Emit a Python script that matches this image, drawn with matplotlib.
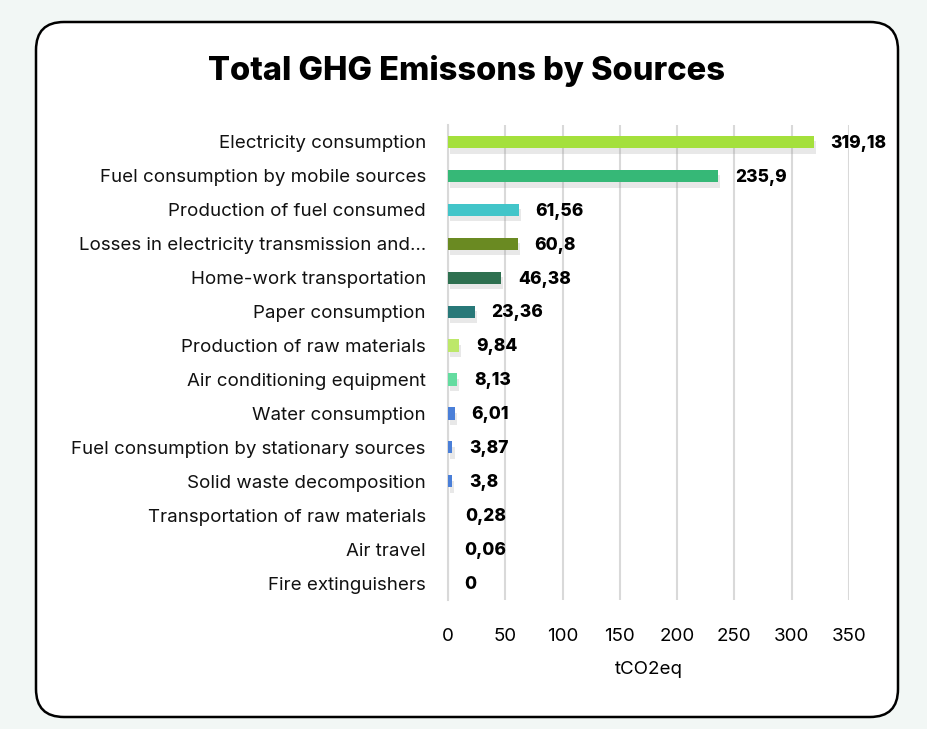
import matplotlib
matplotlib.use('Agg')
import matplotlib.pyplot as plt
import matplotlib.patheffects as pe
from matplotlib.patches import FancyBboxPatch

# Data
sources = [
    'Electricity consumption',
    'Fuel consumption by mobile sources',
    'Production of fuel consumed',
    'Losses in electricity transmission and\u2026',
    'Home-work transportation',
    'Paper consumption',
    'Production of raw materials',
    'Air conditioning equipment',
    'Water consumption',
    'Fuel consumption by stationary sources',
    'Solid waste decomposition',
    'Transportation of raw materials',
    'Air travel',
    'Fire extinguishers',
]
emissions = [319.18, 235.9, 61.56, 60.8, 46.38, 23.36, 9.84, 8.13, 6.01, 3.87, 3.8, 0.28, 0.06, 0]
value_labels = ['319,18', '235,9', '61,56', '60,8', '46,38', '23,36', '9,84', '8,13',
                '6,01', '3,87', '3,8', '0,28', '0,06', '0']
bar_colors = ['#a4e03c', '#36b877', '#42c5c9', '#6a8a22', '#2e7050', '#287878', '#bde86a',
              '#64dca0', '#4a7fd8', '#4a7fd8', '#4a7fd8', '#4a7fd8', '#4a7fd8', '#4a7fd8']
x_ticks = [0, 50, 100, 150, 200, 250, 300, 350]

plt.rcParams['font.family'] = ['Inter', 'DejaVu Sans']

fig = plt.figure(figsize=(9.27, 7.29), dpi=100)
fig.patch.set_facecolor('#f2f7f5')

# rounded white card (pixel coordinates), kept behind the axes
card = FancyBboxPatch((36, 12), 862, 695, boxstyle='round,pad=0,rounding_size=28',
                      transform=None, facecolor='white', edgecolor='black', linewidth=1.8,
                      zorder=-10)
fig.patches.append(card)

fig.text(467 / 927, 1 - 71 / 729, 'Total GHG Emissons by Sources', ha='center', va='center',
         fontsize=23.5, fontweight='heavy', color='black')

ax = fig.add_axes([448 / 927, 1 - 600 / 729, 401 / 927, 475 / 729])
ax.set_facecolor('none')

ypos = list(range(len(sources)))
bars = ax.barh(ypos, emissions, height=0.36, color=bar_colors, zorder=3)
for b in bars:
    b.set_path_effects([pe.SimplePatchShadow(offset=(1.5, -4), shadow_rgbFace='#999999', alpha=0.22),
                        pe.Normal()])

for y, v, lab in zip(ypos, emissions, value_labels):
    ax.annotate(lab, (v, y), xytext=(12, -1), textcoords='offset points', ha='left', va='center',
                fontsize=12.5, fontweight='heavy', color='black', annotation_clip=False)

ax.set_xlim(0, 350)
ax.set_ylim(len(sources) - 0.5, -0.5)
ax.set_xticks(x_ticks)
ax.set_yticks(ypos)
ax.set_yticklabels(sources, fontsize=13.5, color='#111111')
ax.tick_params(axis='y', length=0, pad=16)
ax.tick_params(axis='x', length=0, pad=20, labelsize=13.5)
ax.grid(axis='x', color='#d9d9d9', linewidth=1.5, zorder=0)
for s in ['top', 'right', 'bottom']:
    ax.spines[s].set_visible(False)
ax.spines['left'].set_color('#d9d9d9')
ax.spines['left'].set_linewidth(1.5)
ax.set_xlabel('tCO2eq', fontsize=13.5, labelpad=12)

fig.savefig('out.png', dpi=100, facecolor=fig.get_facecolor())
